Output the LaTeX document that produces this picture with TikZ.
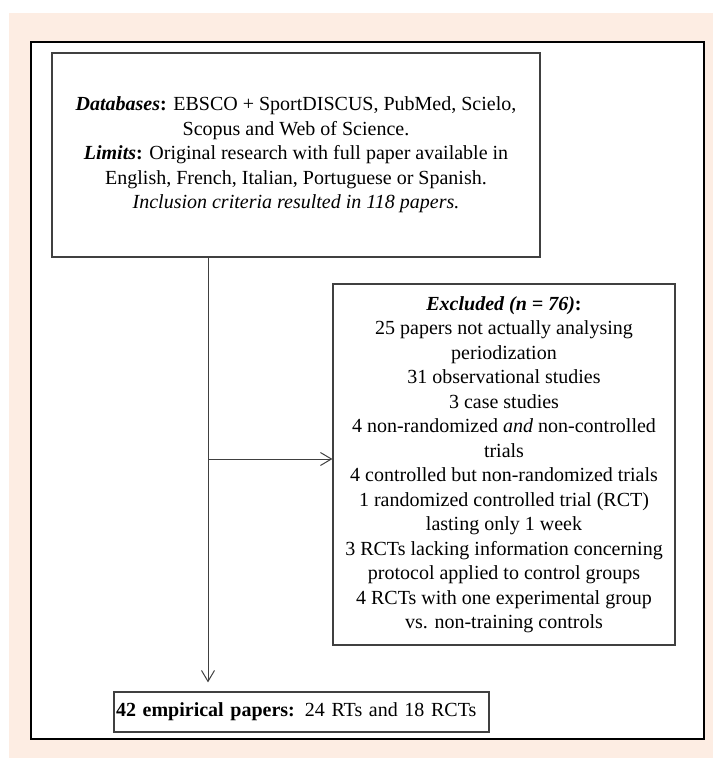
\documentclass[tikz,border=0pt]{standalone}
\usepackage{fontspec}
\setmainfont{Liberation Serif}
\usetikzlibrary{arrows.meta}
\definecolor{peach}{RGB}{253,237,227}
\definecolor{boxline}{RGB}{64,64,64}

\tikzset{
  flowbox/.style={draw=boxline, line width=1.2pt, align=center, inner sep=0pt, font=\fontsize{20}{24.5}\selectfont},
  flowline/.style={draw=boxline, line width=1pt, ->, >={Straight Barb[length=11pt,width=13pt]}}
}

\begin{document}
\begin{tikzpicture}[x=1pt, y=-1pt]
  % draw the background and the frame
  \fill[white] (0,0) rectangle (713,758);
  \fill[peach] (9,13) rectangle (713,758);
  \draw[line width=2.5pt, fill=white] (31,42) rectangle (704,739);

  % draw the boxes
  \node[flowbox, minimum width=488pt, minimum height=204pt] (search) at (296,155)
    {\textbf{\textit{Databases}}\textbf{:} EBSCO + SportDISCUS, PubMed, Scielo,\\
     Scopus and Web of Science.\\
     \textbf{\textit{Limits}}\textbf{:} Original research with full paper available in\\
     English, French, Italian, Portuguese or Spanish.\\
     \textit{Inclusion criteria resulted in 118 papers.}};
  \node[flowbox, minimum width=342pt, minimum height=361pt] (excluded) at (504,464.5)
    {\textbf{\textit{Excluded (n = 76)}}\textbf{:}\\
     25 papers not actually analysing\\
     periodization\\
     31 observational studies\\
     3 case studies\\
     4 non-randomized \textit{and} non-controlled\\
     trials\\
     4 controlled but non-randomized trials\\
     1 randomized controlled trial (RCT)\\
     lasting only 1 week\\
     3 RCTs lacking information concerning\\
     protocol applied to control groups\\
     4 RCTs with one experimental group\\
     vs. non-training controls};
  \node[flowbox, minimum width=375pt, minimum height=40pt, text width=371pt, align=left, inner xsep=2pt] (result) at (301.5,712)
    {\textbf{42 empirical papers:} 24 RTs and 18 RCTs};

  % draw the connectors
  \coordinate (split) at (208,459);
  \draw[flowline, shorten >=9pt] (search.south -| split) -- (result.north -| split);
  \draw[flowline] (split) -- (excluded.west |- split);
\end{tikzpicture}
\end{document}
